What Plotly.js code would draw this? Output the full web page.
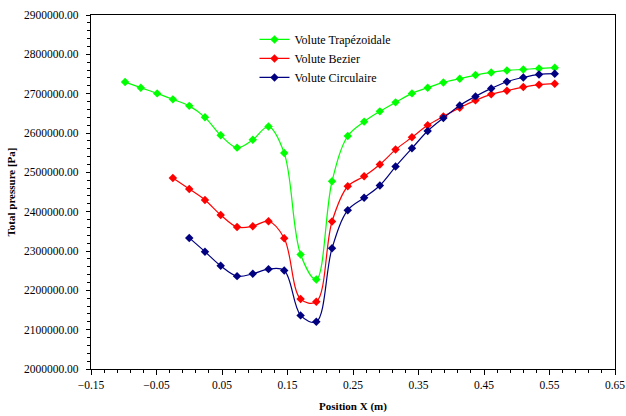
<!DOCTYPE html>
<html>
<head>
<meta charset="utf-8">
<script src="https://cdn.plot.ly/plotly-3.0.1.min.js"></script>
<style>html,body{margin:0;padding:0;background:#fff;}#chart{width:626px;height:416px;}</style>
</head>
<body>
<div id="chart"></div>
<script>
const xPos = [-0.098, -0.074, -0.049, -0.025, 0.000, 0.024, 0.048, 0.073, 0.097, 0.121, 0.145, 0.170, 0.194, 0.218,
              0.242, 0.267, 0.291, 0.315, 0.340, 0.364, 0.388, 0.413, 0.437, 0.461, 0.485, 0.510, 0.534, 0.558];

const trapezoidal = [2729400, 2715200, 2700700, 2685500, 2669000, 2639800, 2594100, 2562800, 2582700, 2616400,
                     2548900, 2291200, 2227700, 2477300, 2592300, 2628900, 2655000, 2677900, 2700700, 2715200,
                     2728600, 2738000, 2747200, 2754000, 2759100, 2761600, 2764200, 2766000];

const bezierX = xPos.slice(3);
const bezier = [2485700, 2457700, 2429800, 2391700, 2361000, 2363000, 2375700, 2332600, 2177700, 2170900,
                2375000, 2464600, 2490000, 2519900, 2557800, 2589000, 2619500, 2642300, 2664400, 2682900,
                2698200, 2707600, 2716700, 2722800, 2725300];

const circulaireX = xPos.slice(4);
const circulaire = [2333300, 2298300, 2262300, 2236100, 2241900, 2253900, 2250600, 2136300, 2120100, 2307200,
                    2403700, 2435400, 2466600, 2514600, 2561100, 2605000, 2638000, 2670200, 2693100, 2713400,
                    2730400, 2741300, 2748900, 2750700];

const names = ['Volute Trapézoidale', 'Volute Bezier', 'Volute Circulaire'];
const colors = ['#00ff00', '#ff0000', '#000080'];
const font = "'Liberation Serif', serif";

function mk(x, y, i) {
  return {
    x: x, y: y, name: names[i], type: 'scatter', mode: 'lines+markers',
    line: {color: colors[i], width: 1.2, shape: 'spline', smoothing: 1},
    marker: {color: colors[i], symbol: 'diamond', size: 6.5}
  };
}

const data = [mk(xPos, trapezoidal, 0), mk(bezierX, bezier, 1), mk(circulaireX, circulaire, 2)];

const layout = {
  width: 626, height: 416,
  margin: {l: 91, r: 11, t: 14.5, b: 47},
  paper_bgcolor: '#fff', plot_bgcolor: '#fff',
  font: {family: font, size: 11, color: '#000'},
  showlegend: true,
  legend: {x: 0.312, y: 0.972, xanchor: 'left', yanchor: 'top', bgcolor: 'rgba(0,0,0,0)',
           font: {family: font, size: 12, color: '#000'}, tracegroupgap: 0},
  xaxis: {
    range: [-0.15, 0.65], tick0: -0.15, dtick: 0.1, tickformat: '.2f',
    showgrid: false, zeroline: false, showline: true, linecolor: '#000', linewidth: 1.2, mirror: true,
    ticks: 'outside', ticklen: 5, tickcolor: '#000',
    minor: {dtick: 0.02, tick0: -0.15, ticks: 'outside', ticklen: 3, tickcolor: '#000', showgrid: false},
    tickfont: {family: font, size: 11.5, color: '#000'},
    title: {text: '<b>Position X (m)</b>', font: {family: font, size: 11, color: '#000'}, standoff: 12}
  },
  yaxis: {
    range: [2000000, 2900000], dtick: 100000, tickformat: '.2f',
    showgrid: false, zeroline: false, showline: true, linecolor: '#000', linewidth: 1.2, mirror: true,
    ticks: 'outside', ticklen: 4, tickcolor: '#000', ticklabelstandoff: 5,
    minor: {dtick: 20000, ticks: 'outside', ticklen: 3, tickcolor: '#000', showgrid: false},
    tickfont: {family: font, size: 11.5, color: '#000'},
    title: {text: '<b>Total pressure [Pa]</b>', font: {family: font, size: 11, color: '#000'}, standoff: 6}
  }
};

Plotly.newPlot('chart', data, layout, {displayModeBar: false, staticPlot: true});
</script>
</body>
</html>
